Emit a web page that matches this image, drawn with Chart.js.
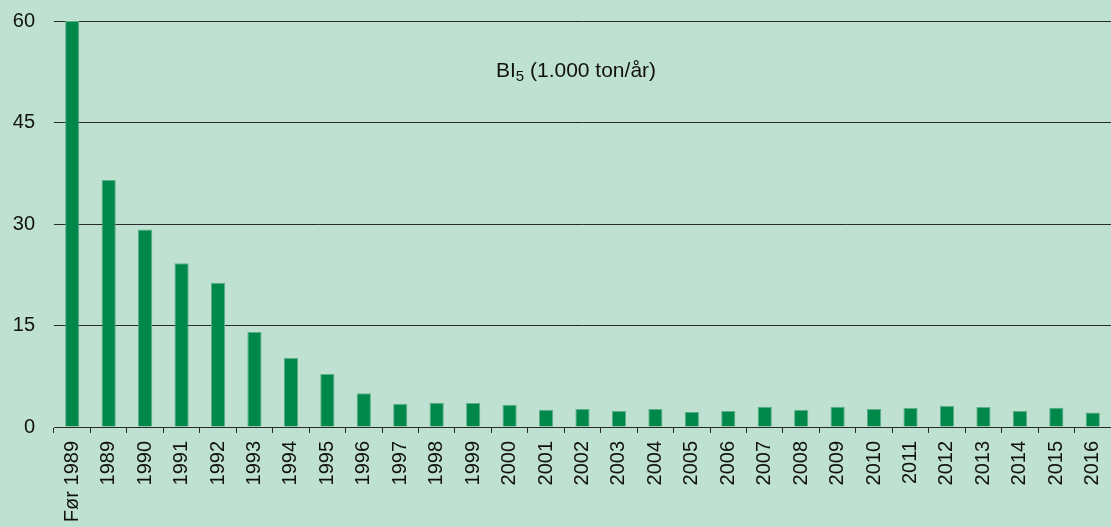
<!DOCTYPE html>
<html>
<head>
<meta charset="utf-8">
<script src="https://cdn.jsdelivr.net/npm/chart.js@4/dist/chart.umd.min.js"></script>
<style>
  html, body { margin: 0; padding: 0; background: #bfe1d1; }
  #wrap { width: 1111px; height: 527px; position: relative; }
</style>
</head>
<body>
<div id="wrap"><canvas id="chart"></canvas></div>
<script>
const years = ["Før 1989", "1989", "1990", "1991", "1992", "1993", "1994", "1995", "1996", "1997",
  "1998", "1999", "2000", "2001", "2002", "2003", "2004", "2005", "2006", "2007",
  "2008", "2009", "2010", "2011", "2012", "2013", "2014", "2015", "2016"];
const bi5 = [60, 36.5, 29.2, 24.2, 21.3, 14.05, 10.2, 7.85, 5.0, 3.45,
  3.6, 3.55, 3.3, 2.56, 2.66, 2.37, 2.66, 2.22, 2.37, 3.0,
  2.56, 3.0, 2.66, 2.8, 3.1, 2.95, 2.37, 2.85, 2.16];
const yTicks = [0, 15, 30, 45, 60];

const FONT = "'Liberation Sans', Arial, sans-serif";

// title with subscript 5
const titlePlugin = {
  id: "bi5title",
  afterDraw(chart) {
    const ctx = chart.ctx;
    const big = "21px " + FONT, small = "15px " + FONT;
    const a = "BI", b = "5", c = " (1.000 ton/år)";
    ctx.save();
    ctx.fillStyle = "#111";
    ctx.textBaseline = "alphabetic";
    ctx.font = big;
    const wa = ctx.measureText(a).width, wc = ctx.measureText(c).width;
    ctx.font = small;
    const wb = ctx.measureText(b).width;
    let x = 576 - (wa + wb + wc) / 2;
    const y = 77;
    ctx.textAlign = "left";
    ctx.font = big;
    ctx.fillText(a, x, y);
    x += wa;
    ctx.font = small;
    ctx.fillText(b, x, y + 4);
    x += wb;
    ctx.font = big;
    ctx.fillText(c, x, y);
    ctx.restore();
  }
};

new Chart(document.getElementById("chart"), {
  type: "bar",
  data: {
    labels: years,
    datasets: [{
      label: "BI5 (1.000 ton/år)",
      data: bi5,
      backgroundColor: "#00874a",
      borderColor: "#5caf86",
      borderWidth: { top: 1, left: 1, right: 1, bottom: 0 },
      barPercentage: 0.39,
      categoryPercentage: 1
    }]
  },
  options: {
    responsive: true,
    maintainAspectRatio: false,
    animation: false,
    devicePixelRatio: 1,
    layout: { padding: { top: 21, right: -1, left: 0, bottom: 0 } },
    plugins: {
      legend: { display: false },
      tooltip: { enabled: false },
      title: { display: false }
    },
    scales: {
      x: {
        afterFit(scale) {
          scale.height = 100;
          scale.paddingLeft = 0;
          scale.paddingRight = 0;
        },
        grid: {
          display: true,
          drawOnChartArea: false,
          drawTicks: true,
          tickLength: 6,
          color: "#2b2b2b",
          offset: true
        },
        border: { display: true, color: "#2b2b2b", width: 1 },
        ticks: {
          color: "#111",
          font: { family: FONT, size: 20 },
          minRotation: 90,
          maxRotation: 90,
          autoSkip: false,
          padding: 8
        }
      },
      y: {
        min: 0,
        max: 60,
        afterFit(scale) {
          scale.width = 54;
          scale.paddingTop = 0;
          scale.paddingBottom = 0;
        },
        afterBuildTicks(scale) { scale.ticks = yTicks.map(v => ({ value: v })); },
        grid: { color: "#2b2b2b", drawTicks: false, lineWidth: 1 },
        border: { display: false },
        ticks: {
          color: "#111",
          font: { family: FONT, size: 20 },
          padding: 19
        }
      }
    }
  },
  plugins: [titlePlugin]
});
</script>
</body>
</html>
